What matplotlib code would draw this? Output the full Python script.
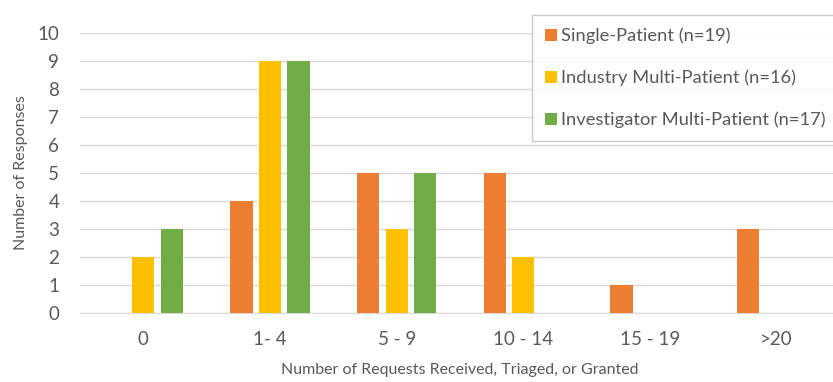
import matplotlib.pyplot as plt
import numpy as np

plt.rcParams['font.family'] = ['Lato', 'DejaVu Sans']

categories = ['0', '1- 4', '5 - 9', '10 - 14', '15 - 19', '>20']
single_patient = [0, 4, 5, 5, 1, 3]
industry_multi = [2, 9, 3, 2, 0, 0]
investigator_multi = [3, 9, 5, 0, 0, 0]

series = [
    ('Single-Patient (n=19)', single_patient, '#ED7D31'),
    ('Industry Multi-Patient (n=16)', industry_multi, '#FFC000'),
    ('Investigator Multi-Patient (n=17)', investigator_multi, '#70AD47'),
]

txt = '#595959'
fig = plt.figure(figsize=(8.33, 3.82), dpi=100)
ax = fig.add_axes([80 / 833, 69 / 382, 760 / 833, 280 / 382])

x = np.arange(len(categories))
step = 0.225
width = 0.174
for i, (name, vals, col) in enumerate(series):
    ax.bar(x + (i - 1) * step, vals, width, color=col, label=name, zorder=3)

ax.set_xlim(-0.5, 5.5)
ax.set_ylim(0, 10)
ax.set_yticks(range(0, 11))
ax.set_xticks(x)
ax.set_xticklabels(categories)
ax.grid(axis='y', color='#D9D9D9', linewidth=1, zorder=0)
for s in ['top', 'right', 'left']:
    ax.spines[s].set_visible(False)
ax.spines['bottom'].set_color('#D9D9D9')
ax.tick_params(axis='both', length=0, labelsize=13.5, colors=txt)
ax.tick_params(axis='y', pad=15)
ax.tick_params(axis='x', pad=13)

ax.set_ylabel('Number of Responses', fontsize=11.5, color=txt, labelpad=7)
ax.set_xlabel('Number of Requests Received, Triaged, or Granted', fontsize=11.5,
              color=txt, labelpad=11)

leg = fig.legend(loc='upper left', bbox_to_anchor=(532 / 833, 1 - 15 / 382),
                 frameon=True, fancybox=False, fontsize=13.2, labelcolor=txt,
                 handlelength=0.65, handleheight=0.65, handletextpad=0.25,
                 labelspacing=1.38, borderpad=0.7, borderaxespad=0)
leg.get_frame().set_edgecolor('#BFBFBF')
leg.get_frame().set_linewidth(1)

fig.savefig('out.png', dpi=100)
